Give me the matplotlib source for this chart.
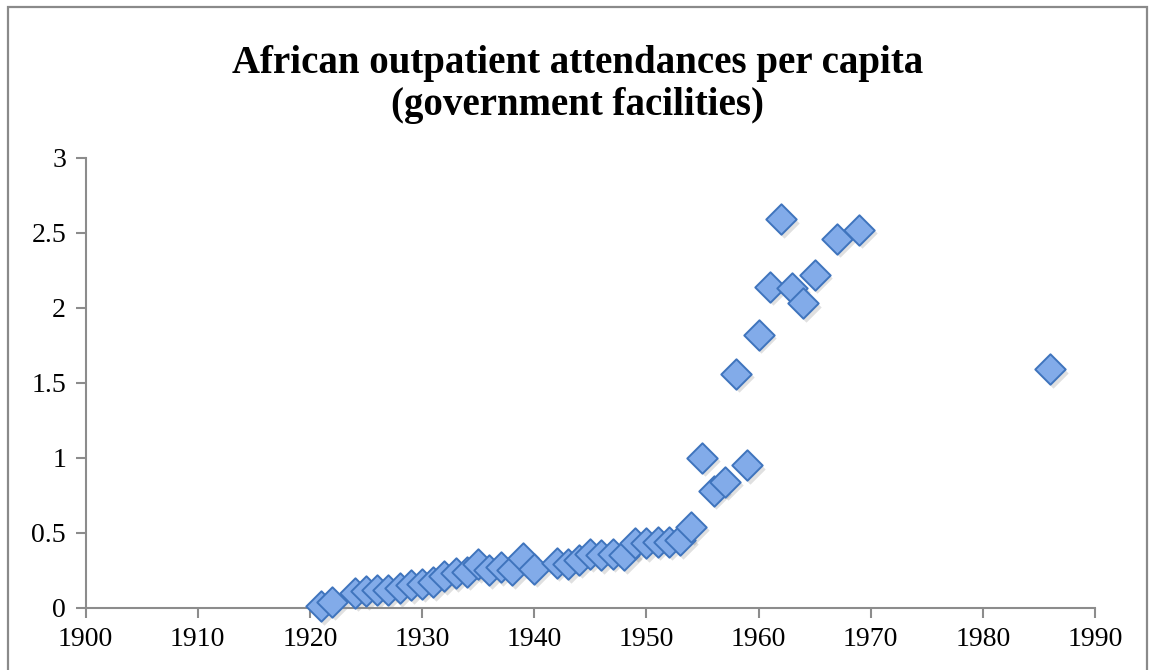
import numpy as np
import matplotlib
matplotlib.use("Agg")
import matplotlib.pyplot as plt
from matplotlib.patches import Rectangle

# Values
years = [1921, 1922, 1924, 1925, 1926, 1927, 1928, 1929, 1930, 1931,
         1932, 1933, 1934, 1935, 1936, 1937, 1938, 1939, 1940, 1942,
         1943, 1944, 1945, 1946, 1947, 1948, 1949, 1950, 1951, 1952,
         1953, 1954, 1955, 1956, 1957, 1958, 1959, 1960, 1961, 1962,
         1963, 1964, 1965, 1967, 1969, 1986]
attendances = [0.01, 0.04, 0.10, 0.11, 0.12, 0.12, 0.13, 0.15, 0.16, 0.17,
               0.21, 0.23, 0.24, 0.29, 0.25, 0.27, 0.25, 0.33, 0.26, 0.30,
               0.29, 0.32, 0.36, 0.35, 0.36, 0.35, 0.43, 0.43, 0.44, 0.44,
               0.45, 0.54, 1.00, 0.78, 0.84, 1.56, 0.95, 1.82, 2.14, 2.59,
               2.13, 2.03, 2.22, 2.46, 2.52, 1.59]

x_ticks = np.arange(1900, 1991, 10)
y_ticks = [0, 0.5, 1, 1.5, 2, 2.5, 3]
y_labels = ["0", "0.5", "1", "1.5", "2", "2.5", "3"]

FONT = "Liberation Serif"
AXIS_GREY = "#8c8c8c"

fig = plt.figure(figsize=(11.55, 6.7), dpi=100)
ax = fig.add_axes([85.5 / 1155, 62.3 / 670, (1095 - 85.5) / 1155, (607.7 - 157.5) / 670])

# chart border
fig.patches.append(Rectangle((8 / 1155, -0.01), (1147 - 8) / 1155, (663 + 7) / 670,
                             transform=fig.transFigure, fill=False,
                             edgecolor="#8a8a8a", linewidth=1.6))

# soft drop shadow, then markers
ax.scatter(np.array(years) + 0.25, np.array(attendances) - 0.025, marker="D", s=240,
           color="#000000", alpha=0.12, linewidths=0, zorder=2, clip_on=False)
ax.scatter(years, attendances, marker="D", s=240, facecolor="#82abe9",
           edgecolor="#3f74bd", linewidths=1.4, zorder=3, clip_on=False)

ax.set_xlim(1900, 1990)
ax.set_ylim(0, 3)
ax.set_xticks(x_ticks)
ax.set_xticklabels([str(x) for x in x_ticks])
ax.set_yticks(y_ticks)
ax.set_yticklabels(y_labels)

for side in ["top", "right"]:
    ax.spines[side].set_visible(False)
for side in ["left", "bottom"]:
    ax.spines[side].set_color(AXIS_GREY)
    ax.spines[side].set_linewidth(1.5)

ax.tick_params(direction="out", length=7, width=1.5, color=AXIS_GREY,
               labelsize=20, pad=7)
for lbl in ax.get_xticklabels() + ax.get_yticklabels():
    lbl.set_fontfamily(FONT)
    lbl.set_color("#000000")

fig.text(0.5, 0.933, "African outpatient attendances per capita\n(government facilities)",
         ha="center", va="top", fontsize=28, fontweight="bold", fontfamily=FONT,
         linespacing=1.2)

fig.savefig("out.png", dpi=100)
